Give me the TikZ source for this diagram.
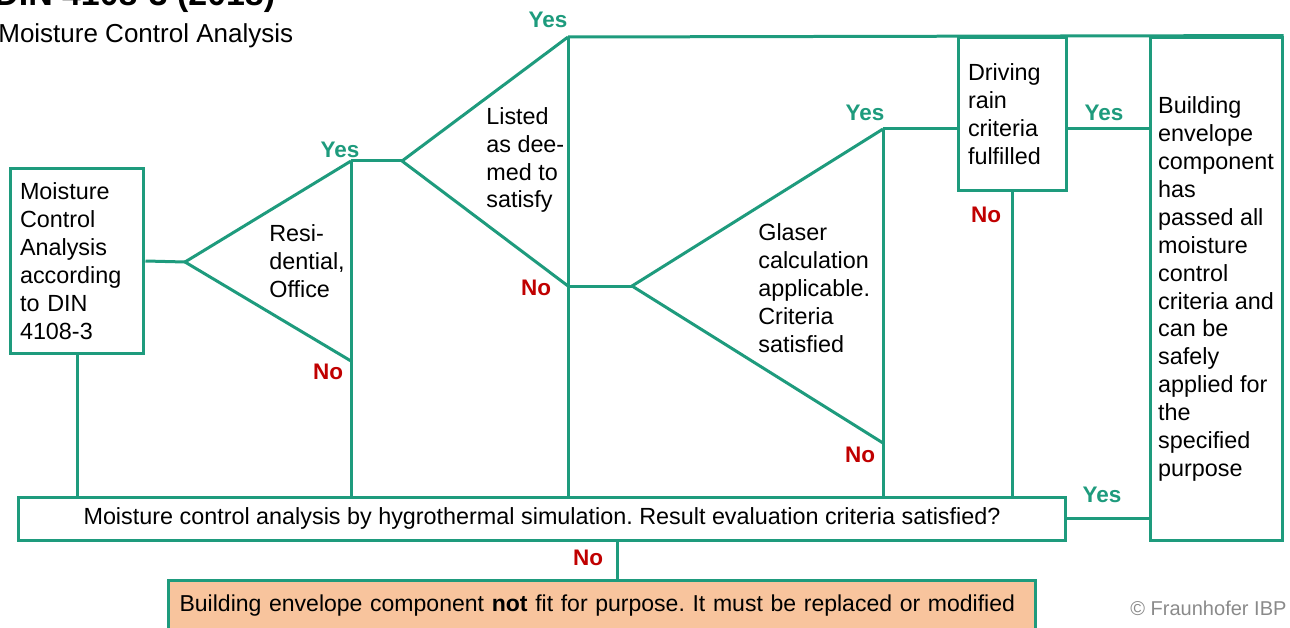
\documentclass[tikz,border=0pt]{standalone}
\usepackage{fontspec}
\setmainfont{Liberation Sans}
\frenchspacing
\definecolor{grn}{HTML}{1E9B7D}
\definecolor{nored}{HTML}{C00000}
\definecolor{peach}{HTML}{F8C49D}
\definecolor{copygray}{HTML}{8A8A8A}
\tikzset{
  wire/.style={draw=grn, line width=0.06cm},
  boxnode/.style={draw=grn, line width=0.06cm, inner sep=0pt, align=left,
    font=\fontsize{13.3}{15.9}\selectfont},
  plain/.style={inner sep=0pt, align=left, font=\fontsize{13.3}{15.9}\selectfont},
  yeslbl/.style={inner sep=0pt, text=grn, font=\fontsize{12.8}{14}\selectfont\bfseries},
  nolbl/.style={inner sep=0pt, text=nored, font=\fontsize{12.8}{14}\selectfont\bfseries}
}
\begin{document}
\begin{tikzpicture}[x=0.02cm,y=-0.02cm]
\clip (0,0) rectangle (1290,628);
\useasboundingbox (0,0) rectangle (1290,628);
% titles
\node[inner sep=0pt, anchor=base west, font=\fontsize{19.3}{23}\selectfont\bfseries] (ttl) at (-6,6) {DIN 4108-3 (2018)};
\node[inner sep=0pt, anchor=west, font=\fontsize{14.8}{17}\selectfont] (sub) at (-2,36) {Moisture Control Analysis};
% boxes
\node[boxnode, minimum width=2.68cm, minimum height=3.72cm, text width=2.28cm] (mca) at (77,261)
  {Moisture\\Control\\Analysis\\according\\to DIN\\4108-3};
\node[boxnode, minimum width=2.16cm, minimum height=3.08cm, text width=1.76cm] (drv) at (1012,114)
  {Driving\\rain\\criteria\\fulfilled};
\node[boxnode, minimum width=2.64cm, minimum height=10.08cm] (rb) at (1216,289)
  {Building\\envelope\\component\\has\\passed all\\moisture\\control\\criteria and\\can be\\safely\\applied for\\the\\specified\\purpose};
\node[boxnode, align=center, minimum width=20.96cm, minimum height=0.86cm] (sim) at (542,518.5)
  {Moisture control analysis by hygrothermal simulation. Result evaluation criteria satisfied?};
\node[boxnode, fill=peach, minimum width=17.36cm, minimum height=1.04cm, text width=16.9cm,
  font=\fontsize{13.1}{15.9}\selectfont] (fail) at (602,606)
  {Building envelope component \textbf{not} fit for purpose. It must be replaced or modified};
% triangle vertices
\coordinate (t1a) at (185,262); \coordinate (t1t) at (351,161); \coordinate (t1b) at (351,361);
\coordinate (t2a) at (402,161); \coordinate (t2t) at (568,37);  \coordinate (t2b) at (568,286);
\coordinate (t3a) at (632,286); \coordinate (t3t) at (883,129); \coordinate (t3b) at (883,443);
\coordinate (nx) at (617,0);
% triangle texts
\node[plain, anchor=west] (q1) at (269,261) {Resi-\\dential,\\Office};
\node[plain, anchor=west] (q2) at (486,160) {Listed\\as dee-\\med to\\satisfy};
\node[plain, anchor=west] (q3) at (758,288) {Glaser\\calculation\\applicable.\\Criteria\\satisfied};
% connectors
\draw[wire] (mca.east) -- (t1a);
\draw[wire] (t1t) -- (t1a) -- (t1b);
\draw[wire] (t1t) -- (t1t |- sim.north);
\draw[wire] (t1t) -- (t2a);
\draw[wire] (t2t) -- (t2a) -- (t2b);
\draw[wire] (t2t) -- (t2t |- sim.north);
\draw[wire] (t2t) -- (rb.north east);
\draw[wire] (t2b) -- (t3a);
\draw[wire] (t3t) -- (t3a) -- (t3b);
\draw[wire] (t3t) -- (t3t |- sim.north);
\draw[wire] (t3t) -- (t3t -| drv.west);
\draw[wire] (drv.east |- t3t) -- (rb.west |- t3t);
\draw[wire] (drv.south) -- (drv.south |- sim.north);
\draw[wire] (mca.south) -- (mca.south |- sim.north);
\draw[wire] (sim.east) -- (rb.west |- sim.east);
\draw[wire] (sim.south -| nx) -- (fail.north -| nx);
% labels
\node[yeslbl] (y1) at (340,150) {Yes};
\node[nolbl]  (n1) at (328,372) {No};
\node[yeslbl] (y2) at (548,20) {Yes};
\node[nolbl]  (n2) at (536,288) {No};
\node[yeslbl] (y3) at (865,113) {Yes};
\node[nolbl]  (n3) at (860,455) {No};
\node[nolbl]  (n4) at (986,215) {No};
\node[yeslbl] (y4) at (1104,113) {Yes};
\node[yeslbl] (y5) at (1102,495) {Yes};
\node[nolbl]  (n5) at (588,558) {No};
\node[inner sep=0pt, anchor=west, text=copygray, font=\fontsize{11.4}{13}\selectfont] (cp) at (1130,608) {© Fraunhofer IBP};
\end{tikzpicture}
\end{document}
